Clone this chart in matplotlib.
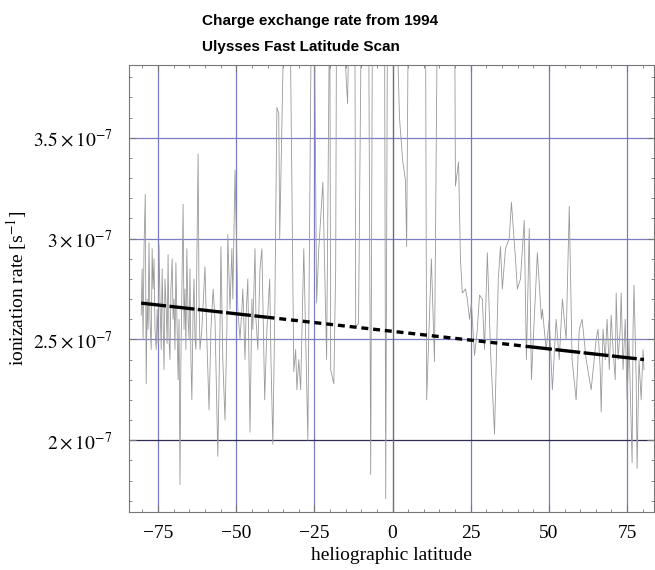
import numpy as np
import matplotlib
matplotlib.use("Agg")
import matplotlib.pyplot as plt
from matplotlib.ticker import MultipleLocator, FuncFormatter

plt.rcParams['font.family'] = ['Liberation Serif', 'DejaVu Serif']
plt.rcParams['mathtext.fontset'] = 'stix'
plt.rcParams['lines.scale_dashes'] = False

# heliographic latitude (deg) and charge exchange rate (units of 1e-7 s^-1)
latitude = [
    -80.4, -80.1, -79.8, -79.5, -79.1, -78.8, -78.5, -78.2, -77.9, -77.6,
    -77.2, -76.9, -76.6, -76.3, -76.0, -75.6, -75.3, -75.0, -74.7, -74.4,
    -74.0, -73.7, -73.4, -73.1, -72.8, -72.4, -72.1, -71.8, -71.5, -71.2,
    -70.9, -70.5, -70.2, -69.9, -69.6, -69.3, -68.9, -68.6, -68.3, -68.0,
    -67.7, -67.0, -66.7, -66.4, -66.1, -65.8, -65.4, -65.1, -64.8, -64.5,
    -64.2, -63.8, -63.5, -63.2, -62.9, -62.6, -62.2, -61.9, -61.6, -61.0,
    -60.0, -59.4, -58.7, -58.1, -57.4, -56.8, -55.9, -55.2, -54.9, -54.3,
    -53.6, -53.0, -52.7, -52.0, -51.4, -51.1, -50.4, -49.8, -49.5, -48.8,
    -48.2, -47.9, -47.2, -46.9, -46.3, -45.6, -45.0, -44.7, -44.0, -43.7,
    -43.1, -42.4, -41.8, -40.9, -40.2, -39.3, -38.9, -38.3, -37.7, -37.0,
    -36.4, -36.1, -34.5, -32.9, -31.6, -31.0, -30.6, -30.0, -29.4, -28.4,
    -27.1, -25.9, -24.9, -24.3, -23.6, -22.3, -21.1, -20.1, -19.8, -18.8,
    -18.2, -17.9, -16.6, -14.4, -13.7, -12.1, -11.8, -10.9, -9.9, -7.7,
    -7.0, -6.4, -2.6, -2.2, -1.6, 1.0, 2.2, 3.2, 4.1, 4.5,
    5.1, 10.5, 10.9, 12.4, 13.4, 14.4, 19.8, 20.1, 21.1, 21.7,
    22.3, 23.3, 23.9, 24.6, 25.2, 26.2, 27.1, 27.8, 28.7, 29.4,
    30.3, 31.3, 32.6, 33.8, 34.5, 35.1, 36.1, 37.3, 38.0, 39.3,
    39.9, 40.9, 42.1, 42.8, 43.7, 44.4, 45.3, 46.3, 47.6, 47.9,
    49.1, 50.1, 51.1, 52.3, 53.3, 54.3, 55.5, 56.5, 57.4, 58.7,
    59.7, 60.6, 61.9, 63.5, 65.1, 65.7, 66.4, 66.7, 67.3, 68.0,
    68.6, 69.3, 69.9, 70.5, 71.2, 71.5, 72.1, 72.8, 73.1, 73.7,
    74.4, 75.0, 75.6, 76.6, 76.9, 77.2, 77.9, 78.2, 78.8, 79.5,
    80.1, 80.4,
]
rate = [
    2.62, 2.85, 2.50, 2.95, 3.22, 2.28, 2.70, 2.55, 2.98, 2.60,
    2.45, 2.95, 2.75, 2.90, 2.55, 2.45, 2.65, 2.48, 2.97, 2.70,
    2.45, 2.85, 2.60, 2.35, 2.80, 2.65, 2.48, 2.92, 2.50, 2.40,
    2.75, 2.90, 2.60, 2.70, 2.45, 2.88, 2.55, 2.30, 2.60, 1.78,
    2.40, 3.17, 2.55, 2.75, 2.45, 2.95, 2.60, 2.50, 2.85, 2.40,
    2.20, 2.65, 2.80, 2.50, 2.45, 2.90, 3.42, 2.70, 2.45, 2.55,
    2.86, 2.50, 2.15, 2.55, 2.75, 2.60, 1.92, 2.55, 2.96, 2.40,
    2.10, 2.55, 3.02, 2.65, 2.95, 2.70, 3.34, 2.90, 2.65, 2.50,
    2.65, 2.75, 2.40, 2.60, 2.80, 2.04, 2.70, 2.55, 2.95, 2.60,
    2.45, 2.85, 2.95, 2.20, 2.55, 2.80, 2.40, 1.98, 2.60, 3.65,
    3.62, 3.00, 4.30, 4.30, 2.34, 2.45, 2.25, 2.40, 2.25, 2.95,
    2.00, 4.30, 3.90, 2.68, 2.95, 3.28, 2.40, 4.30, 2.35, 2.28,
    2.85, 4.30, 4.30, 3.67, 4.30, 4.30, 2.56, 2.58, 4.30, 4.30,
    1.83, 4.30, 4.30, 1.71, 4.30, 4.30, 3.60, 3.39, 3.29, 2.96,
    4.30, 4.30, 2.20, 2.90, 2.39, 4.30, 4.30, 3.26, 3.38, 2.90,
    2.73, 2.75, 2.70, 2.60, 2.68, 2.42, 2.55, 2.72, 2.70, 2.45,
    2.93, 2.45, 2.03, 2.80, 2.96, 2.75, 2.95, 3.00, 3.18, 2.90,
    2.75, 2.80, 3.09, 2.40, 3.05, 2.30, 2.60, 2.93, 2.60, 2.65,
    2.45, 2.60, 2.25, 2.60, 2.40, 2.70, 2.50, 3.16, 2.40, 2.20,
    2.55, 2.60, 2.40, 2.25, 2.50, 2.55, 2.35, 2.14, 2.55, 2.40,
    2.60, 2.35, 2.62, 2.45, 2.30, 2.73, 2.40, 2.55, 2.73, 2.35,
    2.60, 2.20, 2.50, 1.89, 2.55, 2.77, 2.30, 1.86, 2.40, 2.20,
    2.45, 2.35,
]

# linear trend: end values and where the dash pattern changes
trend_lat = [-80.4, 80.4]
trend_rate = [2.68, 2.40]
dash_breaks = [-80.4, -40.0, 43.0, 80.4]

fig = plt.figure(figsize=(6.55, 5.70), dpi=100)
ax = fig.add_axes([129 / 655, 1 - 512 / 570, 525 / 655, 447 / 570])

grid_c = '#7c7cc4'
for gx in [-75, -50, -25, 25, 50, 75]:
    ax.axvline(gx, color=grid_c, lw=0.9, zorder=1)
for gy in [2.5, 3.0, 3.5]:
    ax.axhline(gy, color=grid_c, lw=0.9, zorder=1)
ax.axhline(2.0, color='#2c2c55', lw=0.9, zorder=1)
ax.axvline(0, color='#6a6a80', lw=1.0, zorder=1)

ax.plot(latitude, rate, color='#999999', lw=0.6, zorder=2)

seg_y = np.interp(dash_breaks, trend_lat, trend_rate)
dash_styles = [(18, 2.5), (5, 3.5), (18, 2.5)]
for i in range(3):
    ax.plot(dash_breaks[i:i + 2], seg_y[i:i + 2], color='black', lw=2.4,
            dashes=dash_styles[i], zorder=3, solid_capstyle='butt', dash_capstyle='butt')

ax.set_xlim(-84.3, 83.6)
ax.set_ylim(1.644, 3.861)
ax.xaxis.set_major_locator(MultipleLocator(25))
ax.xaxis.set_minor_locator(MultipleLocator(5))
ax.yaxis.set_major_locator(MultipleLocator(0.5))
ax.yaxis.set_minor_locator(MultipleLocator(0.1))
ax.yaxis.set_major_formatter(FuncFormatter(lambda v, p: r'$%s\times10^{-7}$' % ('%g' % v)))
ax.tick_params(which='both', direction='in', top=True, right=True, color='#777777')
ax.tick_params(which='major', length=5, labelsize=14)
ax.tick_params(axis='x', which='major', pad=9)
ax.tick_params(axis='y', which='major', pad=12)
ax.tick_params(which='minor', length=2.5)
for s in ax.spines.values():
    s.set_color('#777777')
    s.set_linewidth(0.8)

ax.set_xlabel('heliographic latitude', fontsize=14, labelpad=4)
ax.set_ylabel(r'ionization rate [s$^{-1}$]', fontsize=14)
ax.yaxis.set_label_coords(-0.19, 0.5)

title_font = dict(ha='left', va='center', fontsize=11, fontweight='bold',
                  family=['Liberation Sans Narrow', 'Liberation Sans', 'DejaVu Sans'])
fig.text(202 / 655, 1 - 21 / 570, 'Charge exchange rate from 1994', **title_font)
fig.text(202 / 655, 1 - 47 / 570, 'Ulysses Fast Latitude Scan', **title_font)

fig.savefig('out.png', dpi=100)
